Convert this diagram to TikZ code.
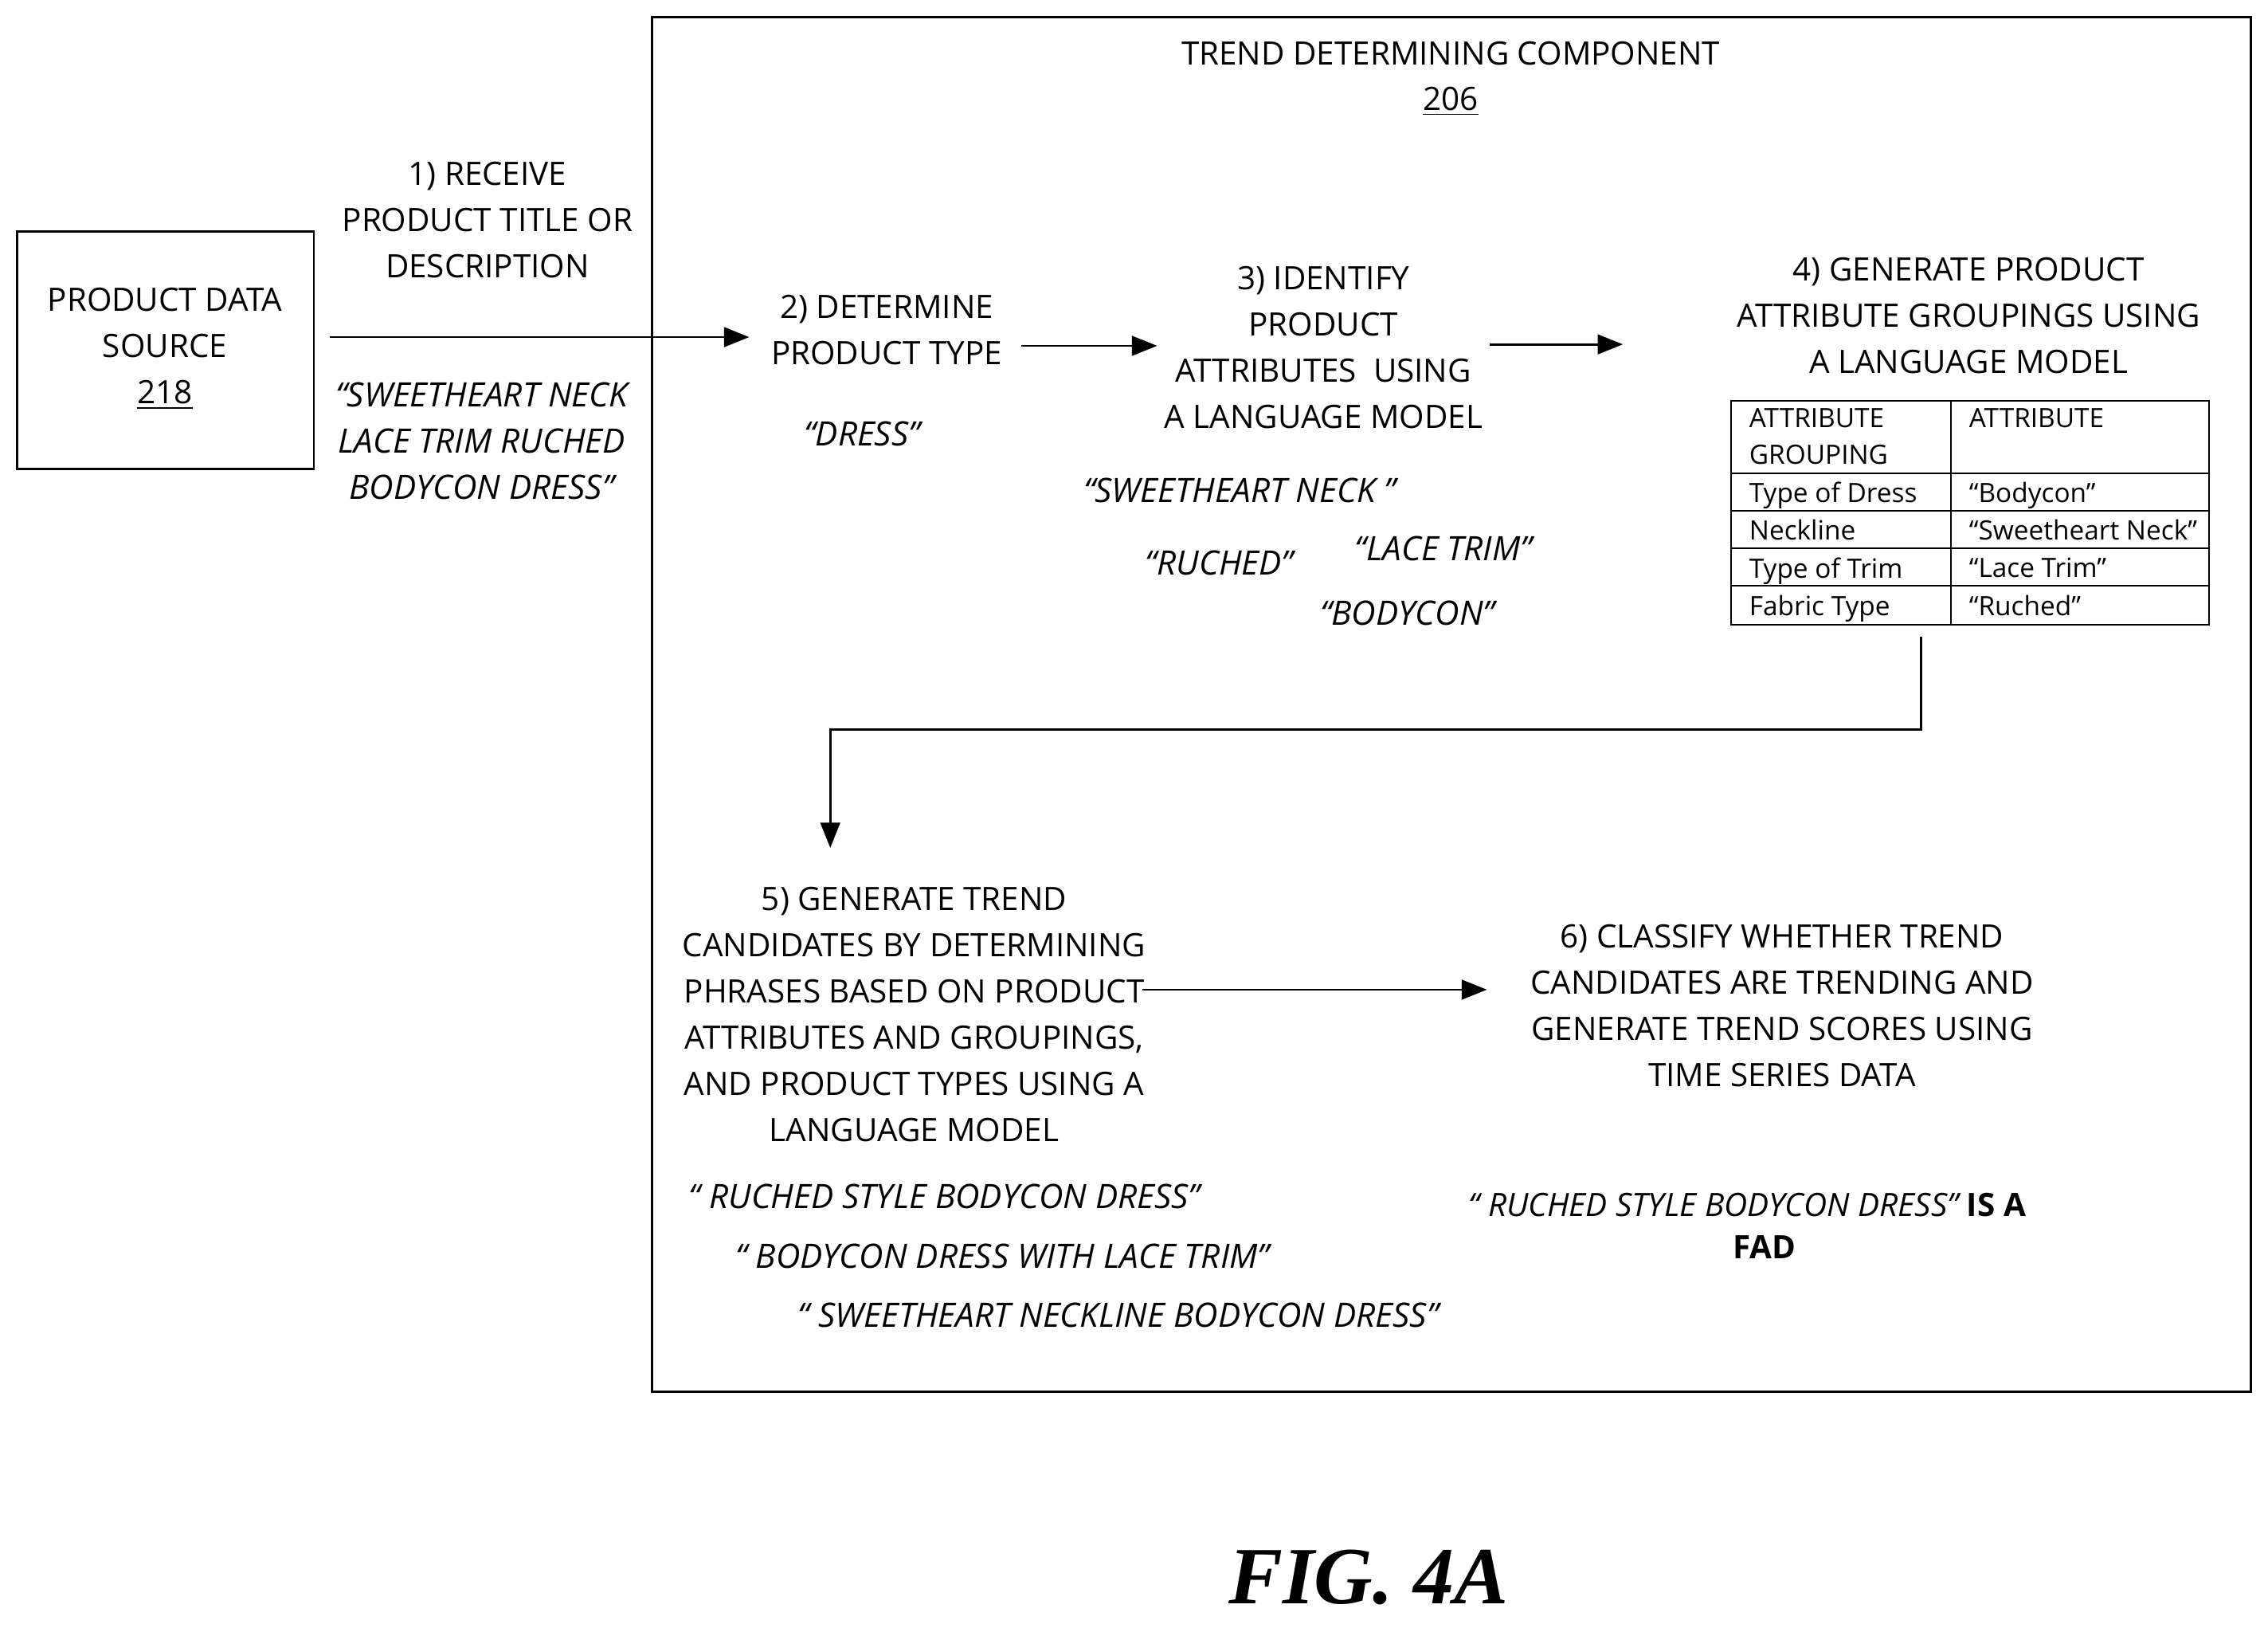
\documentclass[tikz,border=0pt]{standalone}
\usepackage{fontspec}
\setmainfont{Open Sans}
\newfontfamily\figfont{Liberation Serif}
\usetikzlibrary{arrows.meta}
\tikzset{
  txt/.style={align=center, font=\fontsize{11.5}{16.5}\selectfont, inner sep=0pt},
  quote/.style={txt, font=\fontsize{12}{16.5}\selectfont\itshape},
  cell/.style={anchor=north west, align=left, font=\fontsize{9.5}{13}\selectfont, inner sep=0pt},
  flow/.style={-{Triangle[length=9pt,width=7pt]}, line width=0.8pt},
}
\begin{document}
\begin{tikzpicture}[x=0.01816cm, y=-0.01816cm]
  \useasboundingbox (0,0) rectangle (1568,1125);
  % outer component
  \draw[line width=0.8pt] (451,12) rectangle (1556,962);
  \node[txt] (title) at (1003,37) {TREND DETERMINING COMPONENT};
  \node[txt] (num) at (1003,70) {\underline{206}};

  % data source
  \draw[line width=0.8pt] (12,160) rectangle (217,324);
  \node[txt] (src) at (114,241) {PRODUCT DATA\\SOURCE\\\underline{218}};

  % steps
  \node[txt] (s1) at (337,152) {1) RECEIVE\\PRODUCT TITLE OR\\DESCRIPTION};
  \node[quote] (q1) at (333,305) {``SWEETHEART NECK\\LACE TRIM RUCHED\\BODYCON DRESS''};
  \node[txt] (s2) at (613,228) {2) DETERMINE\\PRODUCT TYPE};
  \node[quote] (q2) at (596,300) {``DRESS''};
  \node[txt] (s3) at (915,240) {3) IDENTIFY\\PRODUCT\\ATTRIBUTES\ \ USING\\A LANGUAGE MODEL};
  \node[quote] (q3a) at (857,339) {``SWEETHEART NECK ''};
  \node[quote] (q3b) at (843,389) {``RUCHED''};
  \node[quote] (q3c) at (998,379) {``LACE TRIM''};
  \node[quote] (q3d) at (973,424) {``BODYCON''};
  \node[txt] (s4) at (1361,218) {4) GENERATE PRODUCT\\ATTRIBUTE GROUPINGS USING\\A LANGUAGE MODEL};
  \node[txt] (s5) at (632,701) {5) GENERATE TREND\\CANDIDATES BY DETERMINING\\PHRASES BASED ON PRODUCT\\ATTRIBUTES AND GROUPINGS,\\AND PRODUCT TYPES USING A\\LANGUAGE MODEL};
  \node[quote] (q5a) at (653,827) {`` RUCHED STYLE BODYCON DRESS''};
  \node[quote] (q5b) at (693,868) {`` BODYCON DRESS WITH LACE TRIM''};
  \node[quote] (q5c) at (773,909) {`` SWEETHEART NECKLINE BODYCON DRESS''};
  \node[txt] (s6) at (1232,695) {6) CLASSIFY WHETHER TREND\\CANDIDATES ARE TRENDING AND\\GENERATE TREND SCORES USING\\TIME SERIES DATA};
  \node[txt, anchor=west] (q6) at (1015,833) {\itshape `` RUCHED STYLE BODYCON DRESS''\upshape\bfseries\ IS A};
  \node[txt] (q6b) at (1220,862) {\bfseries FAD};

  % attribute table
  \draw[line width=0.6pt] (1197,277) rectangle (1527,432);
  \draw[line width=0.6pt] (1349,277) -- (1349,432);
  \foreach \y in {327,353,379,405}
    \draw[line width=0.6pt] (1197,\y) -- (1527,\y);
  \node[cell] (h1) at (1209,282) {ATTRIBUTE\\GROUPING};
  \node[cell] (h2) at (1361,282) {ATTRIBUTE};
  \foreach \y/\g/\a in {333/Type of Dress/``Bodycon'', 359/Neckline/``Sweetheart Neck'',
                        385/Type of Trim/``Lace Trim'', 411/Fabric Type/``Ruched''} {
    \node[cell] at (1209,\y) {\g};
    \node[cell] at (1361,\y) {\a};
  }
  \coordinate (tab) at (1328,440);

  % connectors
  \coordinate (a1s) at (228,233);
  \coordinate (a1e) at (518,233);
  \draw[flow] (a1s) -- (a1e);
  \coordinate (a2s) at (706,239);
  \coordinate (a2e) at (800,239);
  \draw[flow] (a2s) -- (a2e);
  \coordinate (a3s) at (1030,238);
  \coordinate (a3e) at (1122,238);
  \draw[flow] (a3s) -- (a3e);
  \coordinate (a4e) at (574,586);
  \draw[flow] (tab) -- (1328,504) -- (574,504) -- (a4e);
  \coordinate (a5s) at (790,684);
  \coordinate (a5e) at (1028,684);
  \draw[flow] (a5s) -- (a5e);

  \node[font=\figfont\fontsize{29}{31}\selectfont\bfseries\itshape] (fig) at (946,1090) {FIG. 4A};
\end{tikzpicture}
\end{document}
